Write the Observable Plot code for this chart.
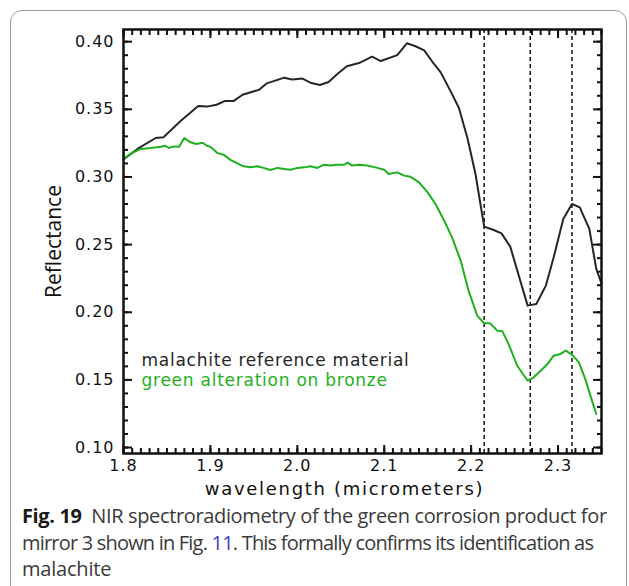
<!DOCTYPE html>
<html><head><meta charset="utf-8">
<script src="https://cdn.jsdelivr.net/npm/d3@7"></script>
<script src="https://cdn.jsdelivr.net/npm/@observablehq/plot@0.6"></script>
<style>
html,body{margin:0;padding:0;background:#fff;width:629px;height:586px;overflow:hidden;}
#card{position:absolute;left:10px;top:10px;width:617px;height:700px;border:1.5px solid #9a9a9a;border-radius:12px;box-sizing:border-box;}
#chart{position:absolute;left:0;top:0;}
#caption{position:absolute;left:22px;top:503px;font-family:"Open Sans",sans-serif;font-size:20px;line-height:26.5px;color:#3a3a3a;white-space:nowrap;}
#caption div{margin:0;}
#caption .l1{letter-spacing:-0.36px;}
#caption .l2{letter-spacing:-0.8px;}
#caption .l3{letter-spacing:-0.2px;}
#caption b{color:#1a1a1a;}
#caption .ref{color:#3d3dc8;}
</style></head><body>
<div id="card"></div>
<div id="chart"></div>
<div id="caption"><div class="l1"><b>Fig. 19</b>&nbsp; NIR spectroradiometry of the green corrosion product for</div><div class="l2">mirror 3 shown in Fig. <span class="ref">11</span>. This formally confirms its identification as</div><div class="l3">malachite</div></div>
<script>
// ---- data ----
const seriesNames = ["malachite reference material", "green alteration on bronze"];
const seriesColors = ["#262626", "#1fb01f"];

const malachiteWavelength = [1.800,1.816,1.837,1.846,1.866,1.886,1.896,1.907,1.917,1.927,
  1.937,1.956,1.965,1.985,1.994,2.006,2.015,2.026,2.036,2.046,
  2.057,2.071,2.086,2.096,2.115,2.126,2.136,2.146,2.155,2.165,
  2.176,2.186,2.196,2.205,2.215,2.226,2.235,2.245,2.265,2.275,
  2.286,2.295,2.306,2.316,2.325,2.336,2.344,2.350];
const malachiteReflectance = [0.313,0.3207,0.3288,0.3293,0.3416,0.3525,0.3520,0.3534,0.3562,0.3562,
  0.3608,0.3645,0.3692,0.3734,0.3721,0.3727,0.3697,0.3680,0.3702,0.3761,
  0.3818,0.3842,0.3889,0.3857,0.3901,0.3988,0.3966,0.3936,0.3855,0.3773,
  0.3638,0.3510,0.3281,0.3022,0.2633,0.2608,0.2583,0.2485,0.2049,0.2061,
  0.2197,0.2406,0.2690,0.2800,0.2775,0.2616,0.2320,0.2214];

const bronzeWavelength = [1.800,1.8005,1.808,1.8196,1.831,1.843,1.848,1.852,1.858,1.864,
  1.870,1.877,1.884,1.891,1.896,1.900,1.908,1.915,1.923,1.931,
  1.938,1.946,1.954,1.961,1.969,1.977,1.985,1.992,2.000,2.008,
  2.015,2.023,2.031,2.038,2.046,2.054,2.058,2.063,2.071,2.080,
  2.090,2.100,2.105,2.115,2.123,2.130,2.140,2.150,2.159,2.169,
  2.178,2.188,2.197,2.207,2.215,2.222,2.230,2.236,2.243,2.253,
  2.265,2.272,2.280,2.288,2.295,2.303,2.309,2.316,2.324,2.332,
  2.339,2.344];
const bronzeReflectance = [0.3335,0.3138,0.3170,0.3207,0.3214,0.3224,0.3231,0.3214,0.3226,0.3224,
  0.3288,0.3256,0.3244,0.3253,0.3231,0.3224,0.3177,0.3165,0.3126,0.3101,
  0.3079,0.3071,0.3079,0.3067,0.3052,0.3067,0.3059,0.3054,0.3067,0.3071,
  0.3079,0.3067,0.3091,0.3084,0.3091,0.3091,0.3106,0.3084,0.3091,0.3084,
  0.3071,0.3054,0.3022,0.3034,0.3010,0.3002,0.2960,0.2886,0.2800,0.2677,
  0.2554,0.2381,0.2160,0.1975,0.1918,0.1918,0.1864,0.1859,0.1766,0.1605,
  0.1494,0.1519,0.1568,0.1618,0.1679,0.1692,0.1716,0.1687,0.1630,0.1494,
  0.1347,0.1248];

const absorptionFeatures = [2.215, 2.268, 2.316];

const xTickLabels = [1.8, 1.9, 2.0, 2.1, 2.2, 2.3];
const yTickLabels = [0.10, 0.15, 0.20, 0.25, 0.30, 0.35, 0.40];
const xMinorTicks = d3.range(180, 236).map(d => d / 100);
const yMinorTicks = d3.range(10, 41).map(d => d / 100);

const xLabel = "wavelength (micrometers)";
const yLabel = "Reflectance";

// ---- build ----
const malachite = malachiteWavelength.map((w, i) => ({w, r: malachiteReflectance[i]}));
const bronze = bronzeWavelength.map((w, i) => ({w, r: bronzeReflectance[i]}));

const tickFont = "DejaVu Sans, Verdana, sans-serif";
const axisStroke = {stroke: "#111", strokeWidth: 2, fill: "none"};

const plot = Plot.plot({
  width: 629,
  height: 500,
  marginLeft: 123,
  marginRight: 28,
  marginTop: 29,
  marginBottom: 47,
  style: {background: "transparent", overflow: "visible"},
  x: {domain: [1.8, 2.35], label: null},
  y: {domain: [0.0956, 0.409], label: null},
  marks: [
    Plot.ruleX(absorptionFeatures, {stroke: "#111", strokeWidth: 1.5, strokeDasharray: "4,3"}),
    Plot.line(malachite, {x: "w", y: "r", stroke: seriesColors[0], strokeWidth: 2}),
    Plot.line(bronze, {x: "w", y: "r", stroke: seriesColors[1], strokeWidth: 2}),
    // minor ticks (inward)
    Plot.axisX(xMinorTicks, {anchor: "bottom", tickSize: -5, ...axisStroke}),
    Plot.axisX(xMinorTicks, {anchor: "top", tickSize: -5, ...axisStroke}),
    Plot.axisY(yMinorTicks, {anchor: "left", tickSize: -5, ...axisStroke}),
    Plot.axisY(yMinorTicks, {anchor: "right", tickSize: -5, ...axisStroke}),
    // major ticks (inward)
    Plot.axisX(xTickLabels, {anchor: "bottom", tickSize: -8, ...axisStroke}),
    Plot.axisX(xTickLabels, {anchor: "top", tickSize: -8, ...axisStroke}),
    Plot.axisY(yTickLabels, {anchor: "left", tickSize: -9, ...axisStroke}),
    Plot.axisY(yTickLabels, {anchor: "right", tickSize: -9, ...axisStroke}),
    // tick labels
    Plot.axisX(xTickLabels, {anchor: "bottom", tickSize: 0, tickPadding: 6, tickFormat: d3.format(".1f"),
      fontSize: 16, fontFamily: tickFont, fill: "#111", label: null}),
    Plot.axisY(yTickLabels, {anchor: "left", tickSize: 0, tickPadding: 9, tickFormat: d3.format(".2f"),
      fontSize: 16, fontFamily: tickFont, fill: "#111", label: null}),
    Plot.frame({stroke: "#111", strokeWidth: 2.5}),
    // axis titles
    Plot.text([xLabel], {frameAnchor: "bottom", text: d => d, dx: -18, dy: 36, lineAnchor: "middle",
      fontSize: 18, fontFamily: tickFont, fill: "#111"}),
    Plot.text([yLabel], {frameAnchor: "left", text: d => d, dx: -69, rotate: -90, lineAnchor: "middle",
      textAnchor: "middle", fontSize: 21, fontFamily: "Open Sans, sans-serif", fill: "#111"}),
    // legend
    Plot.text([seriesNames[0]], {frameAnchor: "bottom-left", text: d => d, dx: 18, dy: -92.5, textAnchor: "start",
      lineAnchor: "middle", fontSize: 17, fontFamily: tickFont, fill: seriesColors[0]}),
    Plot.text([seriesNames[1]], {frameAnchor: "bottom-left", text: d => d, dx: 18, dy: -72.5, textAnchor: "start",
      lineAnchor: "middle", fontSize: 17, fontFamily: tickFont, fill: seriesColors[1]})
  ]
});
// letter spacing (tracking) to match the reference's wide typesetting
d3.select(plot).selectAll("text").each(function() {
  const t = this.textContent;
  let ls = null;
  if (t === xLabel) ls = "1.7px";
  else if (seriesNames.includes(t)) ls = "0.75px";
  else if (/^\d\.\d+$/.test(t)) ls = "1px";
  if (ls) this.style.letterSpacing = ls;
});
document.getElementById("chart").appendChild(plot);
</script>
</body></html>
